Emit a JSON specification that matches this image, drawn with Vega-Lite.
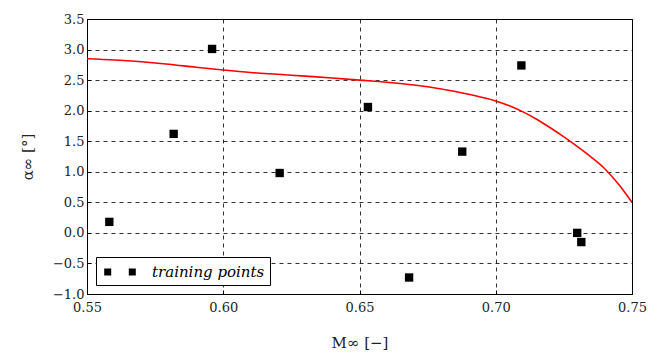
{
  "$schema": "https://vega.github.io/schema/vega-lite/v6.json",
  "autosize": "none",
  "padding": {"left": 87, "top": 19, "right": 25, "bottom": 60},
  "width": 545,
  "height": 275,
  "background": "white",
  "config": {
    "view": {"stroke": "black", "strokeWidth": 1},
    "font": "DejaVu Serif",
    "axis": {
      "labelFont": "DejaVu Serif",
      "labelFontSize": 13,
      "labelColor": "#222",
      "labelOverlap": false,
      "labelFlush": false,
      "titleFont": "DejaVu Serif",
      "titleFontSize": 15,
      "titleFontWeight": "normal",
      "titleColor": "#222",
      "grid": true,
      "gridColor": "black",
      "gridDash": [4, 4],
      "gridOpacity": 0.8,
      "gridWidth": 1,
      "domainColor": "black",
      "tickColor": "black",
      "tickSize": -4
    }
  },
  "datasets": {
    "train": [
      {"M": 0.5582, "alpha": 0.18, "s": "training points"},
      {"M": 0.5818, "alpha": 1.62, "s": "training points"},
      {"M": 0.5959, "alpha": 3.01, "s": "training points"},
      {"M": 0.6207, "alpha": 0.98, "s": "training points"},
      {"M": 0.6531, "alpha": 2.06, "s": "training points"},
      {"M": 0.6682, "alpha": -0.73, "s": "training points"},
      {"M": 0.6877, "alpha": 1.33, "s": "training points"},
      {"M": 0.7094, "alpha": 2.74, "s": "training points"},
      {"M": 0.7299, "alpha": 0.0, "s": "training points"},
      {"M": 0.7314, "alpha": -0.15, "s": "training points"}
    ],
    "curve": [
      {"M": 0.55, "alpha": 2.85},
      {"M": 0.56, "alpha": 2.83},
      {"M": 0.57, "alpha": 2.80},
      {"M": 0.58, "alpha": 2.76},
      {"M": 0.59, "alpha": 2.71},
      {"M": 0.60, "alpha": 2.665},
      {"M": 0.61, "alpha": 2.625},
      {"M": 0.62, "alpha": 2.595},
      {"M": 0.63, "alpha": 2.565},
      {"M": 0.64, "alpha": 2.535},
      {"M": 0.65, "alpha": 2.50},
      {"M": 0.66, "alpha": 2.465},
      {"M": 0.67, "alpha": 2.42},
      {"M": 0.68, "alpha": 2.355},
      {"M": 0.69, "alpha": 2.27},
      {"M": 0.70, "alpha": 2.16},
      {"M": 0.705, "alpha": 2.08},
      {"M": 0.71, "alpha": 1.98},
      {"M": 0.715, "alpha": 1.86},
      {"M": 0.72, "alpha": 1.72},
      {"M": 0.725, "alpha": 1.57},
      {"M": 0.73, "alpha": 1.41},
      {"M": 0.735, "alpha": 1.24},
      {"M": 0.74, "alpha": 1.05},
      {"M": 0.745, "alpha": 0.80},
      {"M": 0.75, "alpha": 0.50}
    ]
  },
  "layer": [
    {
      "data": {"name": "curve"},
      "mark": {"type": "line", "color": "red", "strokeWidth": 1.6, "clip": true, "interpolate": "monotone"},
      "encoding": {
        "x": {"field": "M", "type": "quantitative", "scale": {"domain": [0.55, 0.75], "nice": false, "zero": false},
              "axis": {"values": [0.55, 0.6, 0.65, 0.7, 0.75], "format": ".2f", "title": "M∞ [−]", "labelPadding": 11, "titlePadding": 21}},
        "y": {"field": "alpha", "type": "quantitative", "scale": {"domain": [-1, 3.5], "nice": false, "zero": false},
              "axis": {"tickCount": 9, "format": ".1f", "title": "α∞ [°]", "labelPadding": 7, "titlePadding": 17}}
      }
    },
    {
      "data": {"name": "train"},
      "mark": {"type": "point", "shape": "square", "filled": true, "size": 70, "opacity": 1},
      "encoding": {
        "x": {"field": "M", "type": "quantitative"},
        "y": {"field": "alpha", "type": "quantitative"},
        "color": {"field": "s", "type": "nominal", "scale": {"domain": ["training points"], "range": ["black"]},
          "legend": {
            "title": null,
            "orient": "bottom-left",
            "offset": 9,
            "strokeColor": "black",
            "fillColor": "white",
            "padding": 5,
            "symbolType": "M-0.68,-0.35 h0.7 v0.7 h-0.7 z M1.78,-0.35 h0.7 v0.7 h-0.7 z",
            "symbolSize": 400,
            "symbolFillColor": "black",
            "symbolStrokeWidth": 0,
            "labelFont": "DejaVu Serif",
            "labelFontSize": 15,
            "labelFontStyle": "italic",
            "labelColor": "black",
            "labelOffset": 31
          }
        }
      }
    }
  ]
}
